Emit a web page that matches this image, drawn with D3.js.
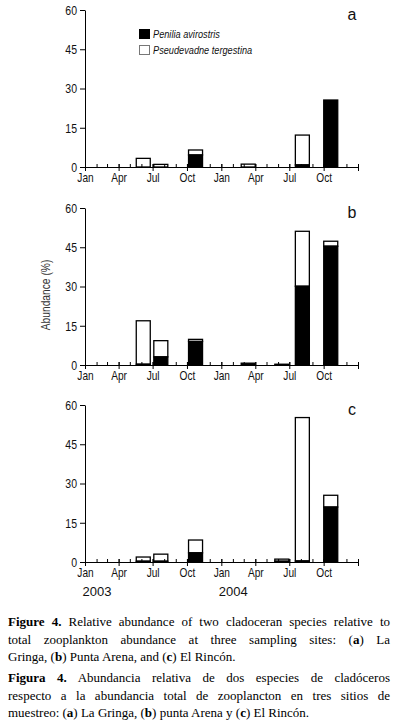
<!DOCTYPE html>
<html>
<head>
<meta charset="utf-8">
<script src="https://cdn.jsdelivr.net/npm/d3@7"></script>
<style>
body { margin: 0; background: #fff; width: 396px; height: 723px; overflow: hidden; position: relative; }
#chart { position: absolute; left: 0; top: 0; }
svg text { font-family: "Liberation Sans", Arial, sans-serif; fill: #111; }
.caption { position: absolute; left: 8px; width: 382px; font-family: "Liberation Serif", "Times New Roman", serif; font-size: 13px; line-height: 17.5px; color: #000; }
.caption div { text-align: justify; text-align-last: justify; }
.caption div.last { text-align-last: left; }
</style>
</head>
<body>
<div id="chart"></div>
<div class="caption" style="top:613px">
  <div><b>Figure 4.</b> Relative abundance of two cladoceran species relative to</div>
  <div>total zooplankton abundance at three sampling sites: (<b>a</b>) La</div>
  <div class="last">Gringa, (<b>b</b>) Punta Arena, and (<b>c</b>) El Rincón.</div>
</div>
<div class="caption" style="top:669px">
  <div><b>Figura 4.</b> Abundancia relativa de dos especies de cladóceros</div>
  <div>respecto a la abundancia total de zooplancton en tres sitios de</div>
  <div class="last">muestreo: (<b>a</b>) La Gringa, (<b>b</b>) punta Arena y (<b>c</b>) El Rincón.</div>
</div>
<script>
const sampleDates = ["2003-06-06", "2003-07-23", "2003-10-24", "2004-03-13", "2004-06-11", "2004-08-05", "2004-10-20"];

// Panel a: La Gringa
const peniliaA = [0, 0, 4.6, 0, 0, 0.8, 25.6];
const pseudevadneA = [3.3, 1.0, 1.9, 1.1, 0, 11.4, 0];
// Panel b: Punta Arena
const peniliaB = [0.3, 3.1, 9.0, 0.7, 0.3, 30.1, 45.4];
const pseudevadneB = [16.6, 6.2, 0.8, 0, 0, 21.0, 1.9];
// Panel c: El Rincón
const peniliaC = [0.3, 0.3, 3.5, 0, 0.3, 0.4, 21.0];
const pseudevadneC = [1.6, 2.7, 4.9, 0, 0.8, 54.8, 4.5];

const panelLetters = ["a", "b", "c"];
const yTicks = [0, 15, 30, 45, 60];
const years = ["2003", "2004"];
const seriesNames = ["Penilia avirostris", "Pseudevadne tergestina"];
const yLabel = "Abundance (%)";

const panels = [
    {letter: panelLetters[0], penilia: peniliaA, pseudevadne: pseudevadneA},
    {letter: panelLetters[1], penilia: peniliaB, pseudevadne: pseudevadneB},
    {letter: panelLetters[2], penilia: peniliaC, pseudevadne: pseudevadneC}
];

const parseDate = d3.timeParse("%Y-%m-%d");
const dates = sampleDates.map(parseDate);

const width = 396, height = 600;
const plotLeft = 85, plotRight = 358;
const panelTops = [10, 208, 405];
const plotHeight = 157;
const barWidth = 14;
const squeeze = 0.78; // the original lettering is narrow

const svg = d3.select("#chart").append("svg")
    .attr("width", width)
    .attr("height", height);

// shared time scale
const x = d3.scaleTime()
    .domain([new Date(2003, 0, 1), new Date(2005, 0, 1)])
    .range([plotLeft, plotRight]);

panels.forEach(function(p, i) {
    const top = panelTops[i];
    const y = d3.scaleLinear().domain([0, 60]).range([top + plotHeight, top]);
    const g = svg.append("g");

    const rows = dates.map((d, j) => ({date: d, pen: p.penilia[j], pse: p.pseudevadne[j]}));

    // Pseudevadne (open) stacked on Penilia
    g.selectAll(".open")
        .data(rows.filter(d => d.pse > 0))
      .enter().append("rect")
        .attr("x", d => x(d.date) - barWidth / 2)
        .attr("width", barWidth)
        .attr("y", d => y(d.pen + d.pse))
        .attr("height", d => y(d.pen) - y(d.pen + d.pse))
        .attr("fill", "#fff")
        .attr("stroke", "#000")
        .attr("stroke-width", 1.3);

    // Penilia (black)
    g.selectAll(".black")
        .data(rows.filter(d => d.pen > 0))
      .enter().append("rect")
        .attr("x", d => x(d.date) - barWidth / 2)
        .attr("width", barWidth)
        .attr("y", d => y(d.pen))
        .attr("height", d => y(0) - y(d.pen))
        .attr("fill", "#000")
        .attr("stroke", "#000")
        .attr("stroke-width", 1.3);

    // minor month ticks
    g.append("g")
        .attr("transform", `translate(0,${y(0)})`)
        .call(d3.axisBottom(x).ticks(d3.timeMonth.every(1)).tickSize(-3).tickFormat(""))
        .call(s => s.select(".domain").remove());

    // major x axis
    const xAxis = g.append("g")
        .attr("transform", `translate(0,${y(0)})`)
        .call(d3.axisBottom(x)
            .ticks(d3.timeMonth.every(3))
            .tickSize(4)
            .tickSizeOuter(0)
            .tickPadding(2)
            .tickFormat(d => d.getFullYear() === 2005 ? "" : d3.timeFormat("%b")(d)));
    xAxis.selectAll(".tick line").attr("y1", -3);
    xAxis.selectAll("text")
        .style("font-size", "13px")
        .attr("transform", `scale(${squeeze},1)`);

    // y axis
    g.append("g")
        .attr("transform", `translate(${plotLeft},0)`)
        .call(d3.axisLeft(y).tickValues(yTicks).tickSize(5).tickSizeOuter(0).tickPadding(3))
        .selectAll("text")
        .style("font-size", "13.5px")
        .attr("x", -8 / squeeze)
        .attr("transform", `scale(${squeeze},1)`);

    // panel letter
    g.append("text")
        .attr("x", 352)
        .attr("y", top + 10)
        .attr("text-anchor", "middle")
        .style("font-size", "16px")
        .text(p.letter);
});

// legend in panel a
const legend = svg.append("g");
seriesNames.forEach(function(name, k) {
    legend.append("rect")
        .attr("x", 139.5)
        .attr("y", 29.5 + k * 16)
        .attr("width", 10)
        .attr("height", 9)
        .attr("fill", k === 0 ? "#000" : "#fff")
        .attr("stroke", k === 0 ? "#000" : "#777")
        .attr("stroke-width", 1);
    legend.append("text")
        .attr("transform", `translate(153,${38 + k * 16}) scale(0.8,1)`)
        .style("font-size", "11.5px")
        .style("font-style", "italic")
        .text(name);
});

// y label
svg.append("text")
    .attr("transform", "translate(50,295) rotate(-90) scale(0.82,1)")
    .attr("text-anchor", "middle")
    .style("font-size", "12.5px")
    .style("fill", "#333")
    .text(yLabel);

// year labels under bottom panel
svg.selectAll(".year")
    .data(years)
  .enter().append("text")
    .attr("x", d => x(new Date(+d, 0, 1)) + 12)
    .attr("y", 596)
    .attr("text-anchor", "middle")
    .style("font-size", "13px")
    .text(d => d);
</script>
</body>
</html>
